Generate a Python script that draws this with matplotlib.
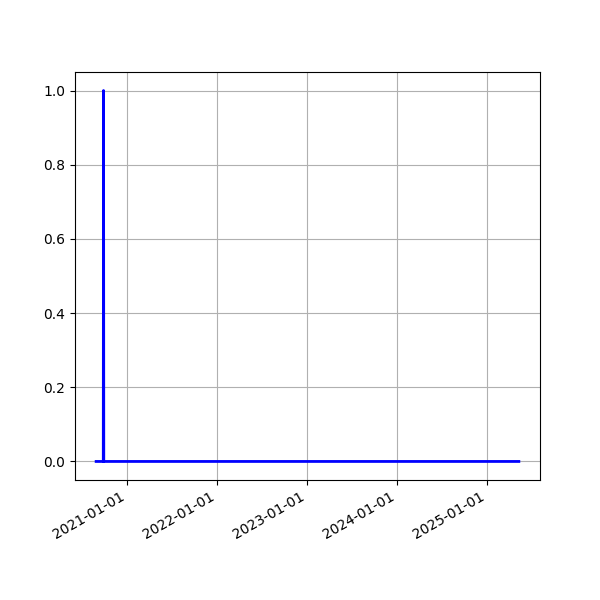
import numpy as np
import matplotlib
matplotlib.use('Agg')
import matplotlib.pyplot as plt
import matplotlib.dates as mdates

# flat zero line with one single-day spike
dates = np.array(['2020-08-29', '2020-09-27', '2020-09-28', '2020-09-29', '2025-05-10'],
                 dtype='datetime64[D]')
values = [0, 0, 1, 0, 0]

fig, ax = plt.subplots(figsize=(6, 6), dpi=100)
ax.plot(dates, values, color='blue', linewidth=2)
ax.grid(True)
ax.xaxis.set_major_locator(mdates.YearLocator())
ax.xaxis.set_major_formatter(mdates.DateFormatter('%Y-%m-%d'))
fig.autofmt_xdate()

fig.savefig('out.png')
